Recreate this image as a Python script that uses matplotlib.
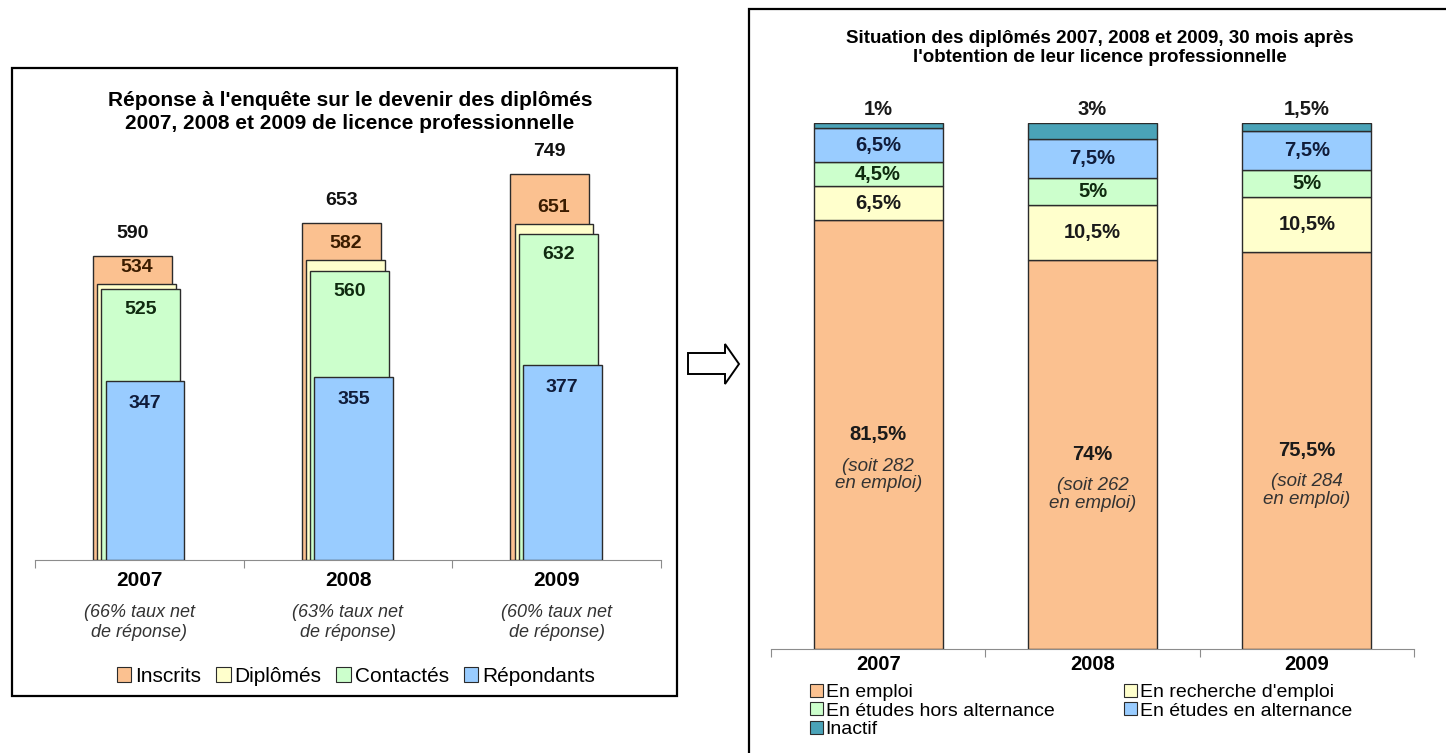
import matplotlib
matplotlib.use('Agg')
from matplotlib import pyplot as plt
from matplotlib.patches import Rectangle, Polygon, Patch
import numpy as np

plt.rcParams['font.family'] = ['Liberation Sans', 'DejaVu Sans']

# --- data: left chart (survey response counts) ---
years = ['2007', '2008', '2009']
taux_net = ['(66% taux net\nde réponse)', '(63% taux net\nde réponse)', '(60% taux net\nde réponse)']
series_left = ['Inscrits', 'Diplômés', 'Contactés', 'Répondants']
inscrits = [590, 653, 749]
diplomes = [534, 582, 651]
contactes = [525, 560, 632]
repondants = [347, 355, 377]

# --- data: right chart (situation after 30 months, %) ---
series_right = ['En emploi', "En recherche d'emploi", 'En études hors alternance',
                'En études en alternance', 'Inactif']
en_emploi = [81.5, 74, 75.5]
recherche = [6.5, 10.5, 10.5]
etudes_hors = [4.5, 5, 5]
etudes_alt = [6.5, 7.5, 7.5]
inactif = [1, 3, 1.5]
soit_emploi = [282, 262, 284]

c_orange = '#FBC190'
c_yellow = '#FFFFCC'
c_green = '#CCFFCC'
c_blue = '#99CCFF'
c_teal = '#4AA3B8'
edge = '#2b2b2b'

W, H = 1446, 753
fig = plt.figure(figsize=(W / 100, H / 100), dpi=100)


def ax_at(x0, y_top, x1, y_bot):
    return fig.add_axes([x0 / W, 1 - y_bot / H, (x1 - x0) / W, (y_bot - y_top) / H])


def fx(x):
    return x / W


def fy(y):
    return 1 - y / H


# panel frames
fig.add_artist(Rectangle((fx(12), fy(696)), (677 - 12) / W, (696 - 68) / H,
                         transform=fig.transFigure, fill=False, lw=1.6, ec='black'))
fig.add_artist(Rectangle((fx(749), fy(800)), (1500 - 749) / W, (800 - 9) / H,
                         transform=fig.transFigure, fill=False, lw=1.6, ec='black'))

# arrow between panels
arrow_px = [(688, 353), (725, 353), (725, 344), (739, 364), (725, 384), (725, 374), (688, 374)]
fig.add_artist(Polygon([(fx(a), fy(b)) for a, b in arrow_px], closed=True,
                       transform=fig.transFigure, fill=False, lw=1.4, ec='black'))

# ---------------- left chart ----------------
axl = ax_at(35, 140, 661, 560)
x = np.arange(len(years))
w = 0.378
offsets = [-0.033, -0.013, 0.007, 0.027]
vals = [inscrits, diplomes, contactes, repondants]
cols = [c_orange, c_yellow, c_green, c_blue]
txtcol = ['#111111', '#3a1c00', '#0f2a0f', '#101c3a']
label_dy = [16, 12, -15, -16]
for i, (v, c) in enumerate(zip(vals, cols)):
    axl.bar(x + offsets[i], v, w, color=c, edgecolor=edge, lw=1.0, zorder=2 + i,
            label=series_left[i])
    for xi, vi in zip(x, v):
        axl.annotate(str(vi), (xi + offsets[i], vi), xytext=(0, label_dy[i]),
                     textcoords='offset points', ha='center', va='center', fontsize=14,
                     fontweight='bold', color=txtcol[i], zorder=10)
axl.set_xlim(-0.5, 2.5)
axl.set_ylim(0, 814)
for s in ['top', 'left', 'right']:
    axl.spines[s].set_visible(False)
axl.spines['bottom'].set_color('#8c8c8c')
axl.set_yticks([])
axl.set_xticks([-0.5, 0.5, 1.5, 2.5])
axl.set_xticklabels([])
axl.tick_params(axis='x', length=6, color='#8c8c8c', direction='out')
for xi in x:
    axl.annotate(years[xi], (xi, 0), xytext=(0, -15), textcoords='offset points',
                 ha='center', va='center', fontsize=15, fontweight='bold')
    axl.annotate(taux_net[xi], (xi, 0), xytext=(0, -45), textcoords='offset points',
                 ha='center', va='center', fontsize=13, style='italic', color='#333333',
                 linespacing=1.2)

fig.text(fx(350), fy(112), "Réponse à l'enquête sur le devenir des diplômés\n"
         "2007, 2008 et 2009 de licence professionnelle",
         ha='center', va='center', fontsize=15, fontweight='bold', linespacing=1.25)

hl = [Patch(facecolor=c, edgecolor=edge, lw=0.8) for c in cols]
fig.legend(hl, series_left, loc='center', bbox_to_anchor=(fx(356), fy(676)), ncol=4,
           frameon=False, fontsize=15, handlelength=0.7, handleheight=0.7,
           handletextpad=0.2, columnspacing=0.7)

# ---------------- right chart ----------------
axr = ax_at(771, 123, 1414, 649)
wr = 0.603
stack = [en_emploi, recherche, etudes_hors, etudes_alt, inactif]
cols_r = [c_orange, c_yellow, c_green, c_blue, c_teal]
txt_r = ['#1a1a1a', '#1a1a1a', '#0f2a0f', '#101c3a', '#1a1a1a']
bottom = np.zeros(3)
for i, (v, c) in enumerate(zip(stack, cols_r)):
    v = np.array(v, dtype=float)
    axr.bar(x, v, wr, bottom=bottom, color=c, edgecolor=edge, lw=1.0, zorder=2,
            label=series_right[i])
    for xi in x:
        lab = ('%g%%' % v[xi]).replace('.', ',')
        if i == 0:
            yc = bottom[xi] + v[xi] / 2
            axr.annotate(lab, (xi, yc), ha='center', va='center', fontsize=14.5,
                         fontweight='bold', color=txt_r[i])
            axr.annotate('(soit %d\nen emploi)' % soit_emploi[xi], (xi, yc),
                         xytext=(0, -29), textcoords='offset points', ha='center',
                         va='center', fontsize=13.5, style='italic', color='#333333',
                         linespacing=1.05)
        elif i == 4:
            axr.annotate(lab, (xi, bottom[xi] + v[xi]), xytext=(0, 10),
                         textcoords='offset points', ha='center', va='center',
                         fontsize=14.5, fontweight='bold', color=txt_r[i],
                         annotation_clip=False)
        else:
            axr.annotate(lab, (xi, bottom[xi] + v[xi] / 2), ha='center', va='center',
                         fontsize=14.5, fontweight='bold', color=txt_r[i])
    bottom += v
axr.set_xlim(-0.5, 2.5)
axr.set_ylim(0, 100)
for s in ['top', 'left', 'right']:
    axr.spines[s].set_visible(False)
axr.spines['bottom'].set_color('#8c8c8c')
axr.set_yticks([])
axr.set_xticks([-0.5, 0.5, 1.5, 2.5])
axr.set_xticklabels([])
axr.tick_params(axis='x', length=6, color='#8c8c8c', direction='out')
for xi in x:
    axr.annotate(years[xi], (xi, 0), xytext=(0, -11), textcoords='offset points',
                 ha='center', va='center', fontsize=14.5, fontweight='bold')

fig.text(fx(1100), fy(48), "Situation des diplômés 2007, 2008 et 2009, 30 mois après\n"
         "l'obtention de leur licence professionnelle",
         ha='center', va='center', fontsize=13.5, fontweight='bold', linespacing=1.2)

hr = [Patch(facecolor=c, edgecolor=edge, lw=0.8) for c in cols_r]
order = [0, 2, 4, 1, 3]
fig.legend([hr[k] for k in order], [series_right[k] for k in order], loc='upper left',
           bbox_to_anchor=(fx(808), fy(682)), ncol=2, frameon=False, fontsize=14,
           handlelength=0.65, handleheight=0.65, handletextpad=0.15, columnspacing=3.6,
           labelspacing=0.05, borderaxespad=0, borderpad=0.1)

fig.savefig('out.png', dpi=100)
